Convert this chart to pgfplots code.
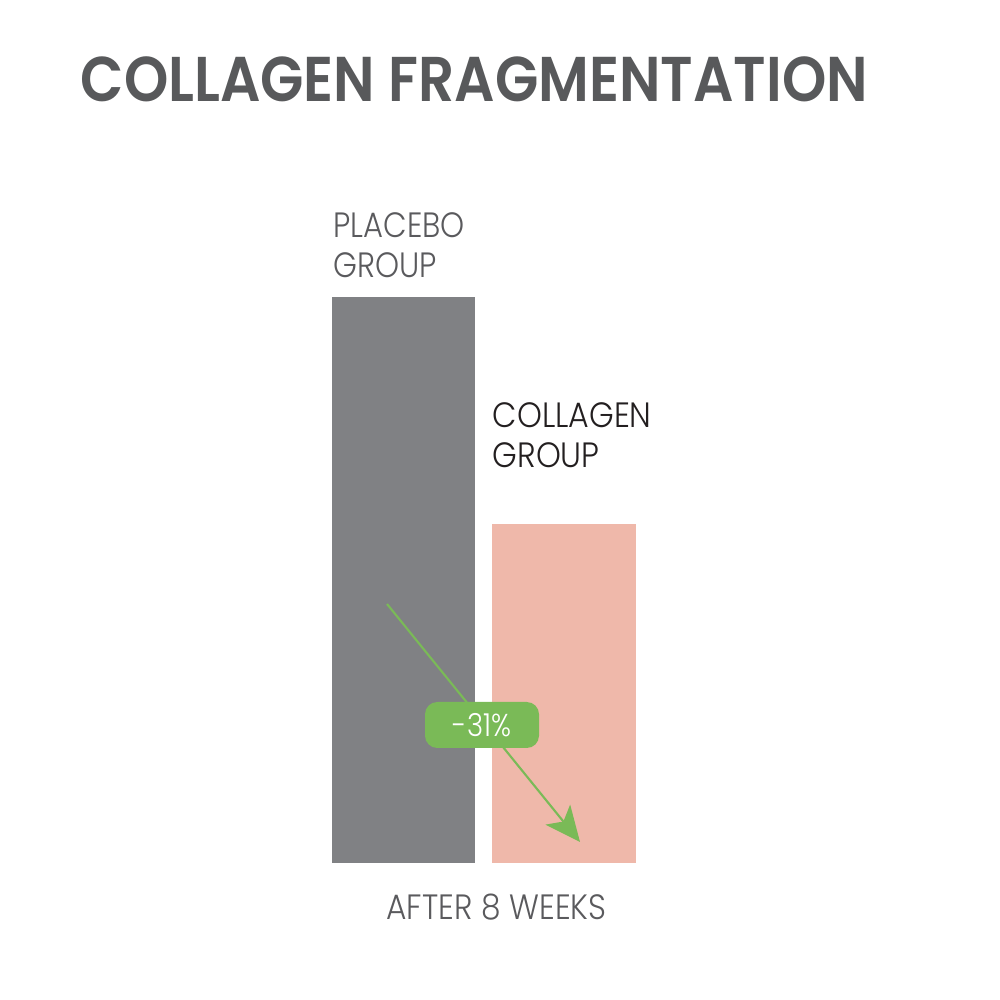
\documentclass[border=0pt]{standalone}
\usepackage{pgfplots}
\pgfplotsset{compat=1.18}
\usetikzlibrary{arrows.meta}
\usepackage{fontspec}
\setmainfont{Poppins}
\newfontfamily\lightfont{Poppins Light}
\newfontfamily\semifont{Poppins SemiBold}

\definecolor{titlegray}{HTML}{58595B}
\definecolor{labelgray}{HTML}{5A5A5D}
\definecolor{labeldark}{HTML}{231F20}
\definecolor{placebo}{HTML}{808184}
\definecolor{collagen}{HTML}{EFB8AA}
\definecolor{arrowgreen}{HTML}{7ABA57}

\newcommand{\lbl}[1]{\scalebox{0.87}[1]{#1}}

\begin{document}
\begin{tikzpicture}
\useasboundingbox (0,0) rectangle (10,10);
\begin{axis}[
    at={(0,0)}, anchor=south west,
    width=10cm, height=10cm, scale only axis,
    xmin=-2.514, xmax=3.7165,
    ymin=-24.2, ymax=152.47,
    axis lines=none, ticks=none,
    clip=false,
    ybar, bar width=0.894,
]
% placebo group
\addplot[fill=placebo, draw=none, bar shift=0pt] coordinates {(0,100)};
% collagen group
\addplot[fill=collagen, draw=none, bar shift=0pt] coordinates {(1,59.9)};
\end{axis}

% title
\node[anchor=base west, inner sep=0pt, text=titlegray, font=\fontsize{18}{20}\selectfont\semifont]
  at (0.80,8.98) {\scalebox{0.892}[1]{COLLAGEN FRAGMENTATION}};

% bar labels
\tikzset{lab/.style={anchor=base west, inner sep=0pt, font=\fontsize{10}{11.3}\selectfont\lightfont}}
\node[lab, text=labelgray] at (3.33,7.62) {\lbl{PLACEBO}};
\node[lab, text=labelgray] at (3.33,7.22) {\lbl{GROUP}};
\node[lab, text=labeldark] at (4.92,5.72) {\scalebox{0.9}[1]{COLLAGEN}};
\node[lab, text=labeldark] at (4.92,5.32) {\scalebox{0.9}[1]{GROUP}};

% x label
\node[lab, anchor=base, text=labelgray] at (4.965,0.80) {\scalebox{0.89}[1]{AFTER 8 WEEKS}};

% change arrow
\draw[arrowgreen, line width=0.6pt, -{Stealth[length=10pt,width=9pt,inset=2.5pt]}]
  (3.87,3.96) -- (5.80,1.58);
\node[fill=arrowgreen, rounded corners=3.5pt, minimum width=1.14cm, minimum height=0.46cm,
      inner sep=0pt, text=white, font=\fontsize{9}{10}\selectfont\lightfont] at (4.82,2.75) {\lbl{-31\%}};
\end{tikzpicture}
\end{document}
